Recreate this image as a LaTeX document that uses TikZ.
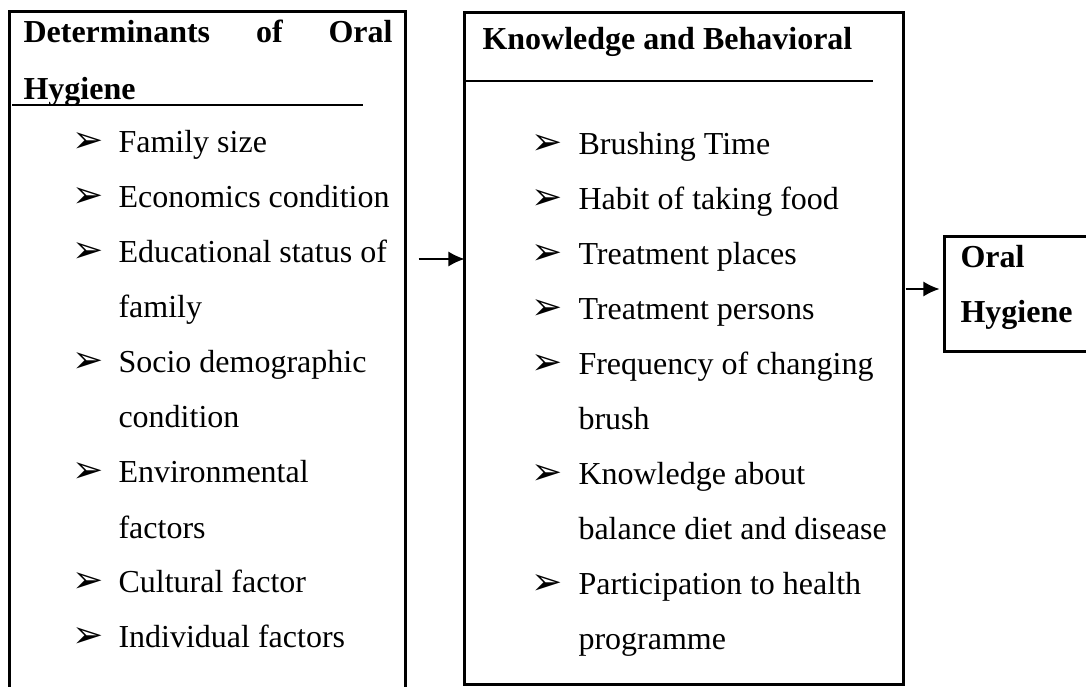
\documentclass[tikz,border=0pt]{standalone}
\usepackage{fontspec}
\setmainfont{Liberation Serif}
\newfontfamily\dingfont{DejaVu Sans}
\usetikzlibrary{arrows.meta,fit,calc}
\newcommand{\bul}{{\dingfont\fontsize{14}{14}\selectfont ➢}}

\begin{document}
\begin{tikzpicture}[font=\fontsize{12}{20.7}\selectfont, x=0.375pt, y=0.375pt,
  >={Latex[length=6pt,width=5.6pt]},
  frame/.style={line width=1.2pt},
  rule/.style={line width=0.8pt},
  item/.style={anchor=base west, inner sep=0pt},
  flow/.style={->, line width=0.5pt}]
\def \xmax{1086}
\def \ymax{686}
\useasboundingbox (0,0) rectangle (\xmax,\ymax);

% the three boxes
\coordinate (d1) at (10,674);  \coordinate (d2) at (405,-3);
\coordinate (k1) at (465,673); \coordinate (k2) at (903,2);
\coordinate (o1) at (945,449); \coordinate (o2) at (1092,335);
\node[fit=(d1)(d2), inner sep=0pt] (detbox) {};
\node[fit=(k1)(k2), inner sep=0pt] (knowbox) {};
\node[fit=(o1)(o2), inner sep=0pt] (oralbox) {};
\draw[frame] (detbox.south west) -- (detbox.north west) -- (detbox.north east) -- (detbox.south east);
\draw[frame] (knowbox.north west) rectangle (knowbox.south east);
\draw[frame] (oralbox.north east) -- (oralbox.north west) -- (oralbox.south west) -- (oralbox.south east);

% headings
\node[item] (dethead) at (23,643) {\bfseries\hbox to 138.4pt{Determinants\hfil of\hfil Oral}};
\node[item] (dethead2) at (23,586) {\bfseries Hygiene};
\draw[rule] (12,581) -- (363,581);
\node[item] (knowhead) at (482,636) {\bfseries Knowledge and Behavioral};
\draw[rule] (465,605) -- (873,605);
\node[item] (oral1) at (960,418) {\bfseries Oral};
\node[item] (oral2) at (960,363) {\bfseries Hygiene};

% lists
\foreach \t/\b [count=\i] in {Family size/1, Economics condition/1, Educational status of/1, family/0,
  Socio demographic/1, condition/0, Environmental/1, factors/0, Cultural factor/1, Individual factors/1}{
  \node[item] (det\i) at (118,588-55*\i) {\t};
  \ifnum\b=1 \node[item] (detb\i) at (72,588-55*\i) {\bul}; \fi
}
\foreach \t/\b [count=\i] in {Brushing Time/1, Habit of taking food/1, Treatment places/1, Treatment persons/1,
  Frequency of changing/1, brush/0, Knowledge about/1, balance diet and disease/0, Participation to health/1, programme/0}{
  \node[item] (know\i) at (578,586-55*\i) {\t};
  \ifnum\b=1 \node[item] (knowb\i) at (531,586-55*\i) {\bul}; \fi
}

\draw[flow] ($(det3.base -| detbox.east)+(13,4)$) -- ($(det3.base -| knowbox.west)+(0,4)$);
\draw[flow] ($(knowbox.east |- oralbox.west)+(2,5)$) -- ($(oralbox.west)+(-5,5)$);
\end{tikzpicture}
\end{document}
